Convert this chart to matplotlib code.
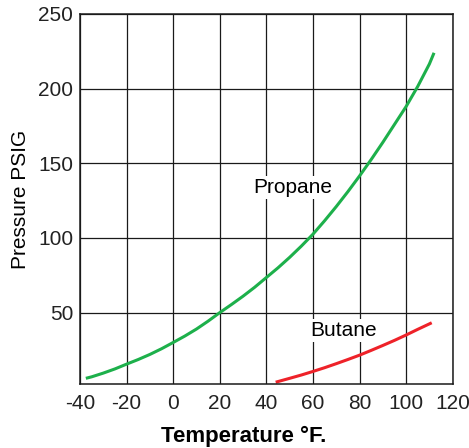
import matplotlib
matplotlib.use("Agg")
import matplotlib.pyplot as plt

# values
propane_t = [-37.5, -35, -30, -25, -20, -15, -10, -5, 0, 5, 10, 15, 20, 25, 30,
             35, 40, 45, 50, 55, 60, 65, 70, 75, 80, 85, 90, 95, 100, 105, 110, 112]
propane_p = [6, 7, 9.5, 12.3, 15.5, 18.6, 22, 25.8, 30, 34.3, 39, 44.3, 50, 55.4, 61,
             67, 73.5, 80, 87, 94.5, 102.5, 111.5, 121, 131, 141.5, 152.5, 164, 176, 188,
             201.5, 216.5, 224]
butane_t = [44, 50, 55, 60, 65, 70, 75, 80, 85, 90, 95, 100, 105, 111]
butane_p = [3.4, 6, 8.2, 10.6, 13.1, 15.8, 18.6, 21.5, 24.7, 28, 31.4, 35, 38.8, 43.2]
x_ticks = [-40, -20, 0, 20, 40, 60, 80, 100, 120]
y_ticks = [50, 100, 150, 200, 250]

GREEN = "#1db04b"
RED = "#ee2229"

plt.rcParams["font.family"] = ["Liberation Sans", "DejaVu Sans"]
plt.rcParams["axes.unicode_minus"] = False

fig = plt.figure(figsize=(4.69, 4.48), dpi=100)
ax = fig.add_axes([0.1706, 0.1422, 0.7946, 0.8266])

ax.set_xlim(-40, 120)
ax.set_ylim(2, 250)
ax.set_xticks(x_ticks)
ax.set_yticks(y_ticks)
ax.tick_params(length=0, labelsize=15, colors="#222222")
ax.tick_params(axis="x", pad=7)
ax.tick_params(axis="y", pad=5)
ax.grid(True, color="#1a1a1a", lw=0.9)
ax.set_axisbelow(True)
for s in ax.spines.values():
    s.set_color("#1a1a1a")
    s.set_linewidth(1.1)

ax.plot(propane_t, propane_p, color=GREEN, lw=2.2, solid_capstyle="butt")
ax.plot(butane_t, butane_p, color=RED, lw=2.2, solid_capstyle="butt")

box = dict(facecolor="white", edgecolor="none", pad=1.5)
ax.text(51.3, 134, "Propane", fontsize=15, ha="center", va="center", bbox=box)
ax.text(73, 38.3, "Butane", fontsize=15, ha="center", va="center", bbox=box)

# x label sits a little left of the axis centre in the reference
fig.text(244 / 469, 1 - 441.5 / 448, "Temperature °F.", fontsize=16,
         fontweight="bold", ha="center", va="baseline")
ax.set_ylabel("Pressure PSIG", fontsize=15, labelpad=6)

fig.savefig("out.png", dpi=100, facecolor="white")
